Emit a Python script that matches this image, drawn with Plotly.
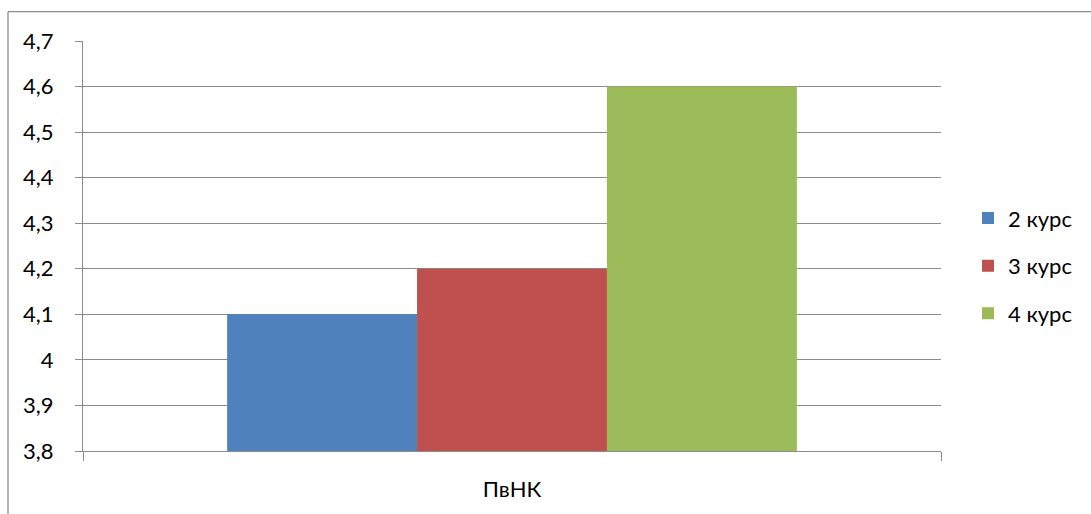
import plotly.graph_objects as go

categories = ["ПвНК"]
series_names = ["2 курс", "3 курс", "4 курс"]
series_values = [[4.1], [4.2], [4.6]]
colors = ["#4F81BD", "#C0504D", "#9BBB59"]
y_ticks = [3.8, 3.9, 4.0, 4.1, 4.2, 4.3, 4.4, 4.5, 4.6, 4.7]
y_tick_labels = ["3,8", "3,9", "4", "4,1", "4,2", "4,3", "4,4", "4,5", "4,6", "4,7"]

W, H = 1091, 514
L, R, T, B = 83, 941, 41, 453
grey = "#8C8C8C"
font = "Lato, Open Sans, sans-serif"

fig = go.Figure()
for i, (name, vals) in enumerate(zip(series_names, series_values)):
    fig.add_trace(go.Bar(
        x=categories, y=vals, name=name, marker_color=colors[i],
        marker_line_width=0, legendgroup=name,
    ))

pw = R - L
ph = B - T
def px(x):
    return (x - L) / pw
def py(y):
    return (B - y) / ph

fig.update_layout(
    width=W, height=H,
    margin=dict(l=L, r=W - R, t=T, b=H - B, pad=0),
    paper_bgcolor="white", plot_bgcolor="white",
    barmode="group", bargap=0.336, bargroupgap=0,
    font=dict(family=font, size=22, color="#000000"),
    showlegend=True,
    legend=dict(
        x=px(968), y=py(198), xanchor="left", yanchor="top",
        font=dict(family=font, size=22, color="#000000"),
        traceorder="grouped", tracegroupgap=16,
        bgcolor="rgba(0,0,0,0)",
    ),
    xaxis=dict(
        type="category", showgrid=False, showline=True, linecolor=grey, linewidth=1.3,
        ticks="outside", tickson="boundaries", ticklen=9, tickcolor=grey, tickwidth=1.3,
        tickfont=dict(family=font, size=22), ticklabelstandoff=18,
    ),
    yaxis=dict(
        range=[3.8, 4.7], tickvals=y_ticks, ticktext=y_tick_labels,
        showgrid=True, gridcolor=grey, gridwidth=1.3,
        showline=True, linecolor=grey, linewidth=1.3,
        ticks="outside", ticklen=7, tickcolor=grey, tickwidth=1.3,
        tickfont=dict(family=font, size=22), ticklabelstandoff=17,
        zeroline=False,
    ),
    shapes=[
        dict(type="line", xref="paper", yref="paper", x0=px(8), x1=px(W + 20), y0=py(11.5), y1=py(11.5),
             line=dict(color=grey, width=1.3)),
        dict(type="line", xref="paper", yref="paper", x0=px(8), x1=px(8), y0=py(11.5), y1=py(H + 20),
             line=dict(color=grey, width=1.3)),
    ],
)

fig.write_html("out.html", config={"displayModeBar": False},
               post_script="document.body.style.margin='0px';")
